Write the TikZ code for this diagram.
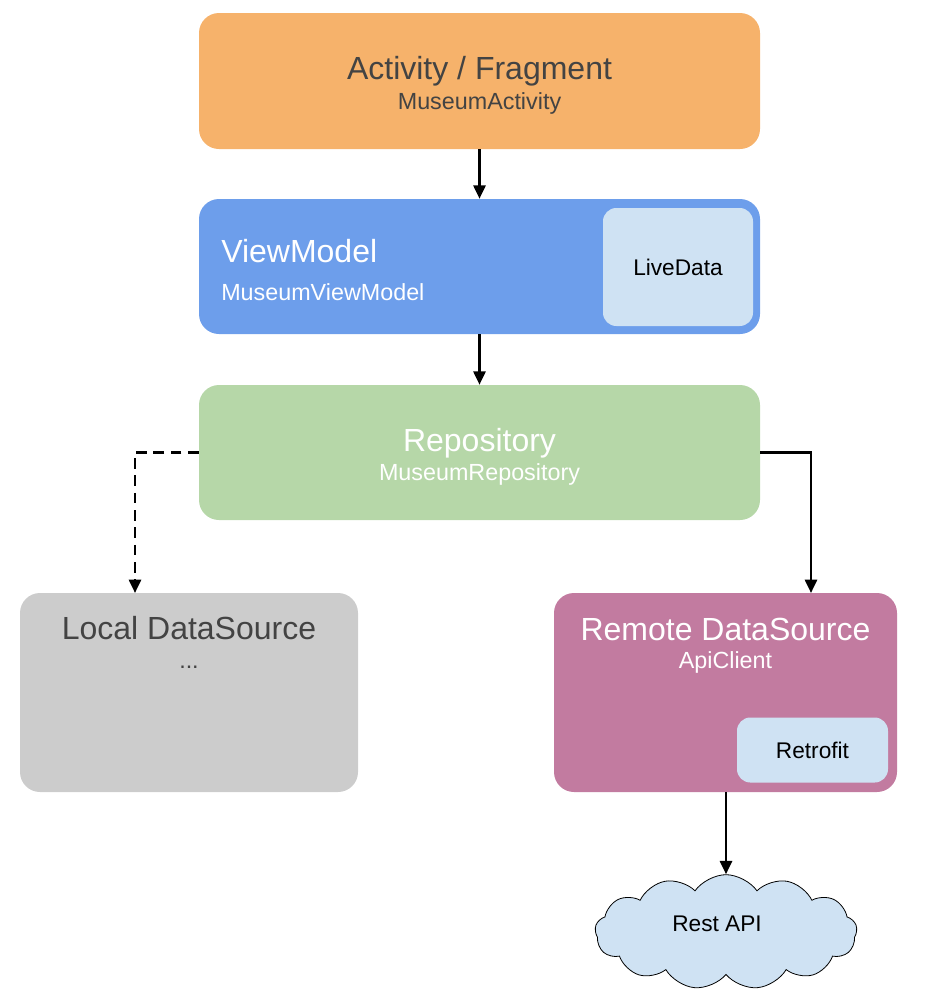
\documentclass[tikz,border=0pt]{standalone}
\usepackage{fontspec}
\setmainfont{Liberation Sans}
\usepackage{xcolor}
\usetikzlibrary{arrows.meta,shapes.symbols}

\definecolor{actorange}{HTML}{F6B26B}
\definecolor{vmblue}{HTML}{6D9EEB}
\definecolor{paleblue}{HTML}{CFE2F3}
\definecolor{repogreen}{HTML}{B6D7A8}
\definecolor{localgrey}{HTML}{CCCCCC}
\definecolor{remotepink}{HTML}{C27BA0}
\definecolor{darktext}{HTML}{434343}

\tikzset{
	layerbox/.style={rounded corners=15pt, inner sep=0pt, draw=none},
	innerbox/.style={rounded corners=10pt, inner sep=0pt, fill=paleblue},
	bigtext/.style={font=\fontsize{24}{28}\selectfont, inner sep=0pt},
	smalltext/.style={font=\fontsize{17.5}{21}\selectfont, inner sep=0pt},
	labeltext/.style={font=\fontsize{17}{20}\selectfont, inner sep=0pt},
	link/.style={line width=2pt, -{Triangle[length=10pt,width=9pt]}}
}

\begin{document}
\begin{tikzpicture}[x=0.75pt, y=-0.75pt]
				\useasboundingbox (0, 0) rectangle (931, 1008);
				
				%Activity
				\node[layerbox, fill=actorange, minimum width=420.75pt, minimum height=102pt] (act) at (479.5, 81) {};
				\node[bigtext, text=darktext] (acttitle) at (479.5, 71) {Activity / Fragment};
				\node[smalltext, text=darktext] (actsub) at (479.5, 103) {MuseumActivity};
				
				%ViewModel
				\node[layerbox, fill=vmblue, minimum width=420.75pt, minimum height=101.25pt] (vm) at (479.5, 266.5) {};
				\node[bigtext, text=white, anchor=west] (vmtitle) at (221, 251) {ViewModel};
				\node[smalltext, text=white, anchor=west] (vmsub) at (221, 292) {MuseumViewModel};
				\node[innerbox, minimum width=112.5pt, minimum height=88.5pt, labeltext] (live) at (678, 267) {LiveData};
				
				%Repository
				\node[layerbox, fill=repogreen, minimum width=420.75pt, minimum height=101.25pt] (repo) at (479.5, 452.5) {};
				\node[bigtext, text=white] (repotitle) at (479.5, 443) {Repository};
				\node[smalltext, text=white] (reposub) at (479.5, 474) {MuseumRepository};
				
				%Data sources
				\node[layerbox, fill=localgrey, minimum width=253.5pt, minimum height=149.25pt] (local) at (189, 692.5) {};
				\node[bigtext, text=darktext] (localtitle) at (189, 628) {Local DataSource};
				\node[smalltext, text=darktext] (localsub) at (189, 667) {...};
				
				\node[layerbox, fill=remotepink, minimum width=257.25pt, minimum height=149.25pt] (remote) at (725.5, 692.5) {};
				\node[bigtext, text=white] (remotetitle) at (725.5, 629) {Remote DataSource};
				\node[smalltext, text=white] (remotesub) at (725.5, 662) {ApiClient};
				\node[innerbox, minimum width=113.25pt, minimum height=48.75pt, labeltext] (retro) at (812.5, 750) {Retrofit};
				
				%Cloud
				\node[cloud, cloud puffs=13, cloud puff arc=110, aspect=2.3, draw=black, line width=0.6pt, fill=paleblue, inner sep=0pt, minimum width=196.5pt, minimum height=86pt] (api) at (726, 932) {};
				\node[labeltext] (apitxt) at (717, 924) {Rest API};
				
				%Lines
				\coordinate (ldrop) at (135, 593);
				\coordinate (rdrop) at (811, 593);
				\draw[link] (act.south) -- (vm.north);
				\draw[link] (vm.south) -- (repo.north);
				\draw[link, dash pattern=on 8pt off 5pt] (repo.west) -| (ldrop);
				\draw[link] (repo.east) -| (rdrop);
				\draw[link] (remote.south -| api.north) -- (api.north);
			\end{tikzpicture}
\end{document}
